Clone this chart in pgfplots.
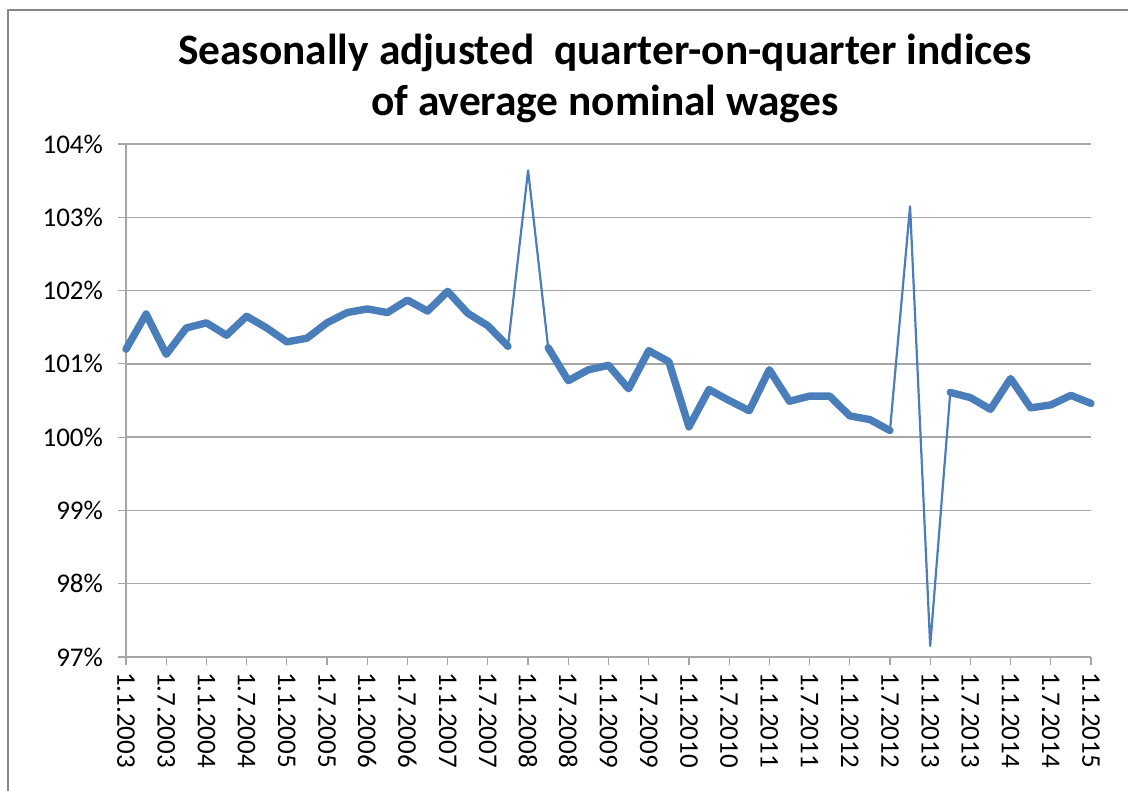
\documentclass[border=0pt]{standalone}
\usepackage{pgfplots}
\pgfplotsset{compat=1.18}
\usepackage{pgfplotstable}
\usepackage{fontspec}
\setmainfont{Carlito}
\definecolor{lineblue}{RGB}{74,126,187}
\definecolor{gridgray}{RGB}{166,166,166}
\definecolor{framegray}{RGB}{134,134,134}
\pgfplotstableread{
x y
0 101.20
1 101.68
2 101.13
3 101.49
4 101.56
5 101.39
6 101.65
7 101.49
8 101.30
9 101.35
10 101.56
11 101.70
12 101.75
13 101.70
14 101.87
15 101.72
16 101.99
17 101.69
18 101.52
19 101.24
20 103.64
21 101.22
22 100.77
23 100.92
24 100.98
25 100.66
26 101.18
27 101.03
28 100.14
29 100.65
30 100.50
31 100.36
32 100.92
33 100.49
34 100.56
35 100.56
36 100.29
37 100.24
38 100.09
39 103.15
40 97.15
41 100.61
42 100.54
43 100.38
44 100.80
45 100.40
46 100.44
47 100.57
48 100.46
}\fulldata
\pgfplotstableread{
x y
0 101.20
1 101.68
2 101.13
3 101.49
4 101.56
5 101.39
6 101.65
7 101.49
8 101.30
9 101.35
10 101.56
11 101.70
12 101.75
13 101.70
14 101.87
15 101.72
16 101.99
17 101.69
18 101.52
19 101.24
20 nan
21 101.22
22 100.77
23 100.92
24 100.98
25 100.66
26 101.18
27 101.03
28 100.14
29 100.65
30 100.50
31 100.36
32 100.92
33 100.49
34 100.56
35 100.56
36 100.29
37 100.24
38 100.09
39 nan
40 nan
41 100.61
42 100.54
43 100.38
44 100.80
45 100.40
46 100.44
47 100.57
48 100.46
}\thickdata
\begin{document}
\begin{tikzpicture}
\useasboundingbox (0,0) rectangle (564pt,-395.5pt);
\draw[framegray, line width=1pt] (4pt,-396pt) -- (4pt,-4.5pt);
\draw[framegray, line width=1pt] (3.5pt,-5pt) -- (564pt,-5pt);
\node[anchor=base, font=\bfseries\fontsize{21.7}{26}\selectfont] at (302.5pt,-32.5pt) {Seasonally adjusted\ \ quarter-on-quarter indices};
\node[anchor=base, font=\bfseries\fontsize{21.7}{26}\selectfont] at (302.5pt,-58pt) {of average nominal wages};
\begin{axis}[
  at={(63pt,-328.5pt)}, anchor=south west,
  scale only axis, width=482.5pt, height=256.5pt,
  xmin=0, xmax=48, ymin=97, ymax=104,
  axis x line*=bottom, axis y line*=left,
  axis line style={gridgray, line width=0.7pt, -},
  xtick={0,2,...,48},
  xticklabels={1.1.2003,1.7.2003,1.1.2004,1.7.2004,1.1.2005,1.7.2005,1.1.2006,1.7.2006,1.1.2007,1.7.2007,1.1.2008,1.7.2008,1.1.2009,1.7.2009,1.1.2010,1.7.2010,1.1.2011,1.7.2011,1.1.2012,1.7.2012,1.1.2013,1.7.2013,1.1.2014,1.7.2014,1.1.2015},
  ytick={97,98,...,104},
  yticklabels={97\%,98\%,99\%,100\%,101\%,102\%,103\%,104\%},
  tick align=outside, major tick length=4pt,
  tick style={gridgray, line width=0.6pt},
  ymajorgrids, grid style={gridgray, line width=0.7pt},
  xticklabel style={rotate=-90, anchor=west, font=\fontsize{13.5}{16}\selectfont, text=black},
  yticklabel style={font=\fontsize{13.5}{16}\selectfont, text=black, xshift=-4pt},
  unbounded coords=jump,
  clip=false,
]
\addplot[lineblue, line width=1.1pt, line join=round] table[x=x,y=y] {\fulldata};
\addplot[lineblue, line width=3.7pt, line join=round, line cap=round] table[x=x,y=y] {\thickdata};
\end{axis}
\end{tikzpicture}
\end{document}
